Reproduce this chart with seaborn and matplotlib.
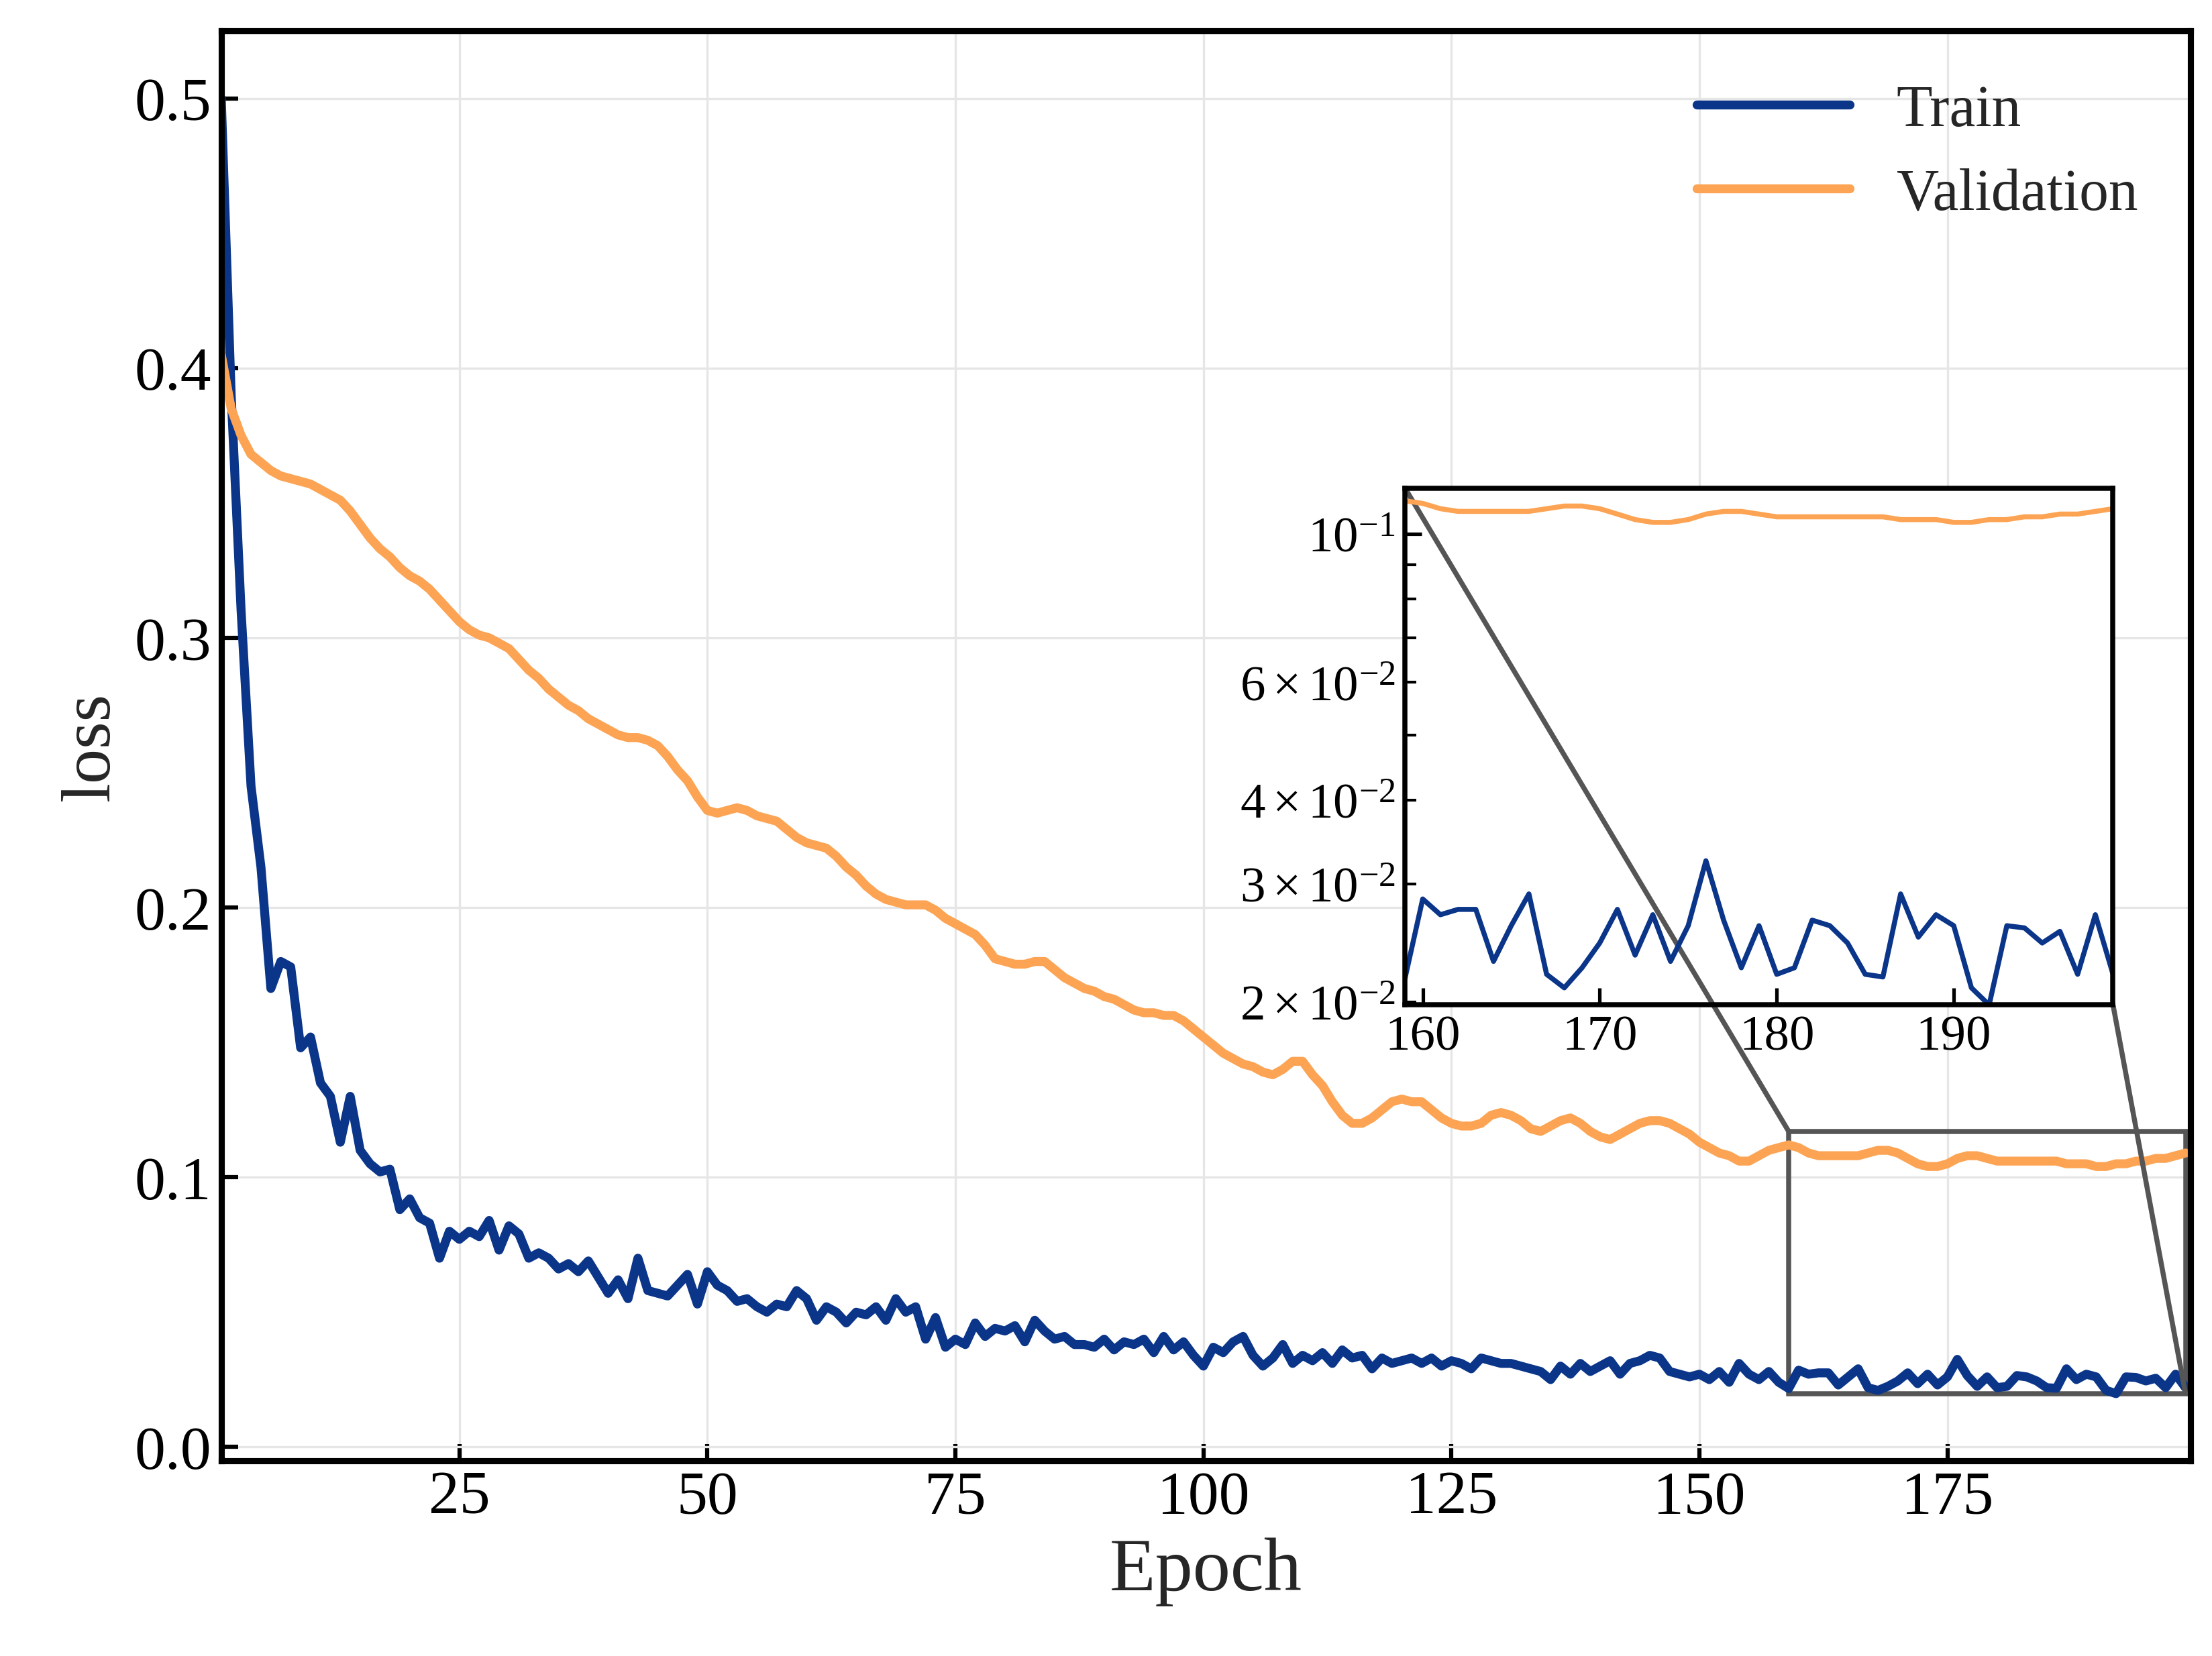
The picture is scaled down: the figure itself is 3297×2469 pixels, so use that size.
import numpy as np
import seaborn as sns
import matplotlib
matplotlib.use("Agg")
import matplotlib.pyplot as plt
from mpl_toolkits.axes_grid1.inset_locator import mark_inset

train_loss = [
    0.500, 0.390, 0.310, 0.245, 0.215, 0.170, 0.180, 0.178, 0.148, 0.152,
    0.135, 0.130, 0.113, 0.130, 0.110, 0.105, 0.102, 0.103, 0.088, 0.092,
    0.085, 0.083, 0.070, 0.080, 0.077, 0.080, 0.078, 0.084, 0.073, 0.082,
    0.079, 0.070, 0.072, 0.070, 0.066, 0.068, 0.065, 0.069, 0.063, 0.057,
    0.062, 0.055, 0.070, 0.058, 0.057, 0.056, 0.060, 0.064, 0.053, 0.065,
    0.060, 0.058, 0.054, 0.055, 0.052, 0.050, 0.053, 0.052, 0.058, 0.055,
    0.047, 0.052, 0.050, 0.046, 0.050, 0.049, 0.052, 0.047, 0.055, 0.050,
    0.052, 0.040, 0.048, 0.037, 0.040, 0.038, 0.046, 0.041, 0.044, 0.043,
    0.045, 0.039, 0.047, 0.043, 0.040, 0.041, 0.038, 0.038, 0.037, 0.040,
    0.036, 0.039, 0.038, 0.040, 0.035, 0.041, 0.036, 0.039, 0.034, 0.030,
    0.037, 0.035, 0.039, 0.041, 0.034, 0.030, 0.033, 0.038, 0.031, 0.034,
    0.032, 0.035, 0.031, 0.036, 0.033, 0.034, 0.029, 0.033, 0.031, 0.032,
    0.033, 0.031, 0.033, 0.030, 0.032, 0.031, 0.029, 0.033, 0.032, 0.031,
    0.031, 0.030, 0.029, 0.028, 0.025, 0.030, 0.027, 0.031, 0.028, 0.030,
    0.032, 0.027, 0.031, 0.032, 0.034, 0.033, 0.028, 0.027, 0.026, 0.027,
    0.025, 0.028, 0.024, 0.031, 0.027, 0.025, 0.028, 0.024, 0.0217, 0.0285,
    0.027, 0.0275, 0.0275, 0.023, 0.026, 0.029, 0.022, 0.021, 0.0225, 0.0245,
    0.0275, 0.0235, 0.027, 0.023, 0.026, 0.0325, 0.0265, 0.0225, 0.026, 0.022,
    0.0225, 0.0265, 0.026, 0.0245, 0.022, 0.0218, 0.029, 0.025, 0.027, 0.026,
    0.021, 0.0198, 0.026, 0.0258, 0.0245, 0.0255, 0.022, 0.027, 0.022,
]

val_loss = [
    0.405, 0.385, 0.375, 0.368, 0.365, 0.362, 0.360, 0.359, 0.358, 0.357,
    0.355, 0.353, 0.351, 0.347, 0.342, 0.337, 0.333, 0.330, 0.326, 0.323,
    0.321, 0.318, 0.314, 0.310, 0.306, 0.303, 0.301, 0.300, 0.298, 0.296,
    0.292, 0.288, 0.285, 0.281, 0.278, 0.275, 0.273, 0.270, 0.268, 0.266,
    0.264, 0.263, 0.263, 0.262, 0.260, 0.256, 0.251, 0.247, 0.241, 0.236,
    0.235, 0.236, 0.237, 0.236, 0.234, 0.233, 0.232, 0.229, 0.226, 0.224,
    0.223, 0.222, 0.219, 0.215, 0.212, 0.208, 0.205, 0.203, 0.202, 0.201,
    0.201, 0.201, 0.199, 0.196, 0.194, 0.192, 0.190, 0.186, 0.181, 0.180,
    0.179, 0.179, 0.180, 0.180, 0.177, 0.174, 0.172, 0.170, 0.169, 0.167,
    0.166, 0.164, 0.162, 0.161, 0.161, 0.160, 0.160, 0.158, 0.155, 0.152,
    0.149, 0.146, 0.144, 0.142, 0.141, 0.139, 0.138, 0.140, 0.143, 0.143,
    0.138, 0.134, 0.128, 0.123, 0.120, 0.120, 0.122, 0.125, 0.128, 0.129,
    0.128, 0.128, 0.125, 0.122, 0.120, 0.119, 0.119, 0.120, 0.123, 0.124,
    0.123, 0.121, 0.118, 0.117, 0.119, 0.121, 0.122, 0.120, 0.117, 0.115,
    0.114, 0.116, 0.118, 0.120, 0.121, 0.121, 0.120, 0.118, 0.116, 0.113,
    0.111, 0.109, 0.108, 0.106, 0.106, 0.108, 0.110, 0.111, 0.112, 0.111,
    0.109, 0.108, 0.108, 0.108, 0.108, 0.108, 0.109, 0.110, 0.110, 0.109,
    0.107, 0.105, 0.104, 0.104, 0.105, 0.107, 0.108, 0.108, 0.107, 0.106,
    0.106, 0.106, 0.106, 0.106, 0.106, 0.106, 0.105, 0.105, 0.105, 0.104,
    0.104, 0.105, 0.105, 0.106, 0.106, 0.107, 0.107, 0.108, 0.109,
]
epochs = np.arange(1, len(train_loss) + 1)

sns.set_theme(style="whitegrid")
plt.rcParams['font.family'] = ['Liberation Serif', 'DejaVu Serif']
plt.rcParams['mathtext.fontset'] = 'stix'

train_c = '#0a3589'
val_c = '#fca454'

fig = plt.figure(figsize=(10.993, 8.233), dpi=300)
ax = fig.add_axes([0.1, 0.118, 0.89, 0.863])
sns.lineplot(x=epochs, y=train_loss, ax=ax, color=train_c, lw=3.2, label='Train')
sns.lineplot(x=epochs, y=val_loss, ax=ax, color=val_c, lw=3.2, label='Validation')
ax.set_xlim(1, 199.5)
ax.set_ylim(-0.005, 0.525)
ax.set_xticks([25, 50, 75, 100, 125, 150, 175])
ax.set_yticks([0.0, 0.1, 0.2, 0.3, 0.4, 0.5])
ax.yaxis.set_major_formatter(matplotlib.ticker.FormatStrFormatter('%.1f'))
ax.grid(True, color='#e6e6e6', lw=0.8)
ax.tick_params(direction='in', length=6, width=1.5, labelsize=22, colors='black',
               bottom=True, left=True)
for s in ax.spines.values():
    s.set_color('black')
    s.set_linewidth(2.2)
ax.set_xlabel('Epoch', fontsize=27)
ax.set_ylabel('loss', fontsize=25)
leg = ax.legend(loc='upper right', frameon=False, fontsize=21, handlelength=2.6)

axins = fig.add_axes([0.635, 0.393, 0.32, 0.312])
axins.plot(epochs, train_loss, color=train_c, lw=1.8)
axins.plot(epochs, val_loss, color=val_c, lw=1.8)
axins.set_yscale('log')
axins.set_xlim(159, 199)
axins.set_ylim(0.0198, 0.117)
axins.set_xticks([160, 170, 180, 190])
axins.grid(False)
axins.set_facecolor('white')
axins.tick_params(which='both', direction='in', labelsize=18, colors='black',
                  bottom=True, left=True)
for s in axins.spines.values():
    s.set_color('black')
    s.set_linewidth(1.8)

mark_inset(ax, axins, loc1=2, loc2=4, fc='none', ec='#555555', lw=1.8)

fig.savefig('out.png', dpi=300)
